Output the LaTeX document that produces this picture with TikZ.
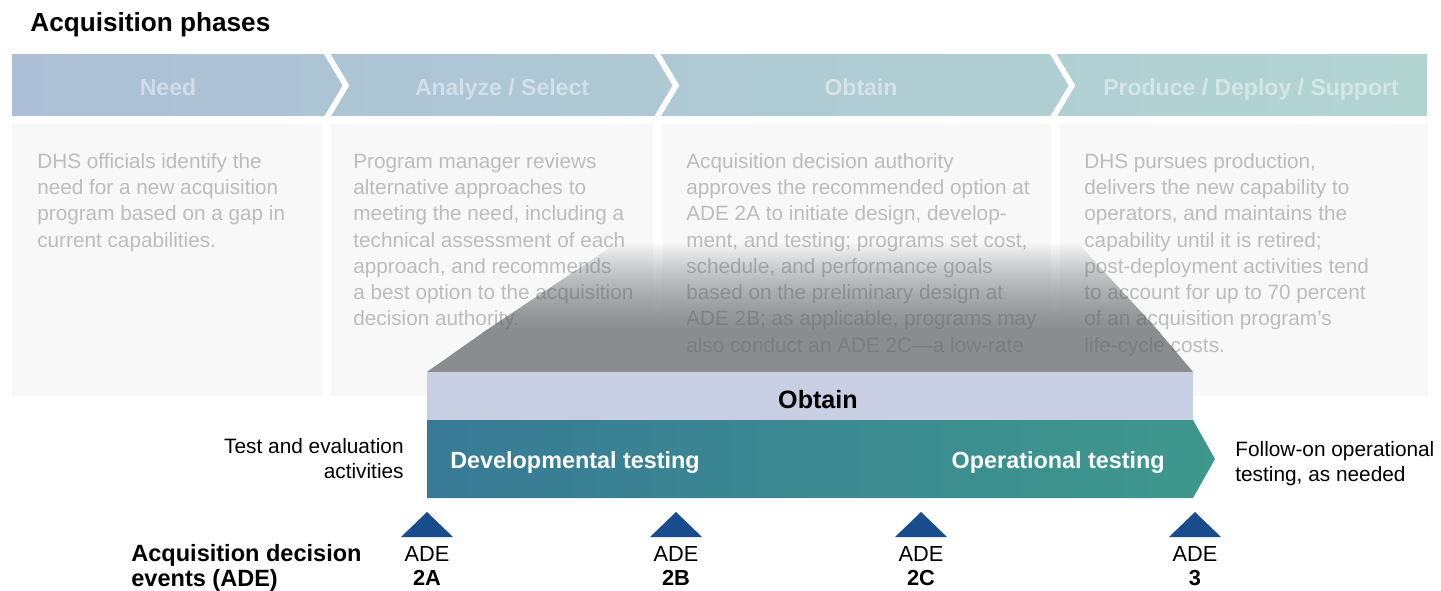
\documentclass[tikz,border=0pt]{standalone}
\usepackage{fontspec}
\setmainfont{Liberation Sans}
\usepackage{tikz}
\usetikzlibrary{fadings}
\usetikzlibrary{positioning}

\definecolor{phaseleft}{RGB}{172,191,214}
\definecolor{phaseright}{RGB}{178,213,210}
\definecolor{panelgray}{RGB}{248,248,248}
\definecolor{obtainband}{RGB}{200,207,226}
\definecolor{devteal}{RGB}{56,122,150}
\definecolor{opteal}{RGB}{62,152,140}
\definecolor{adeblue}{RGB}{24,76,140}
\definecolor{funnelgray}{RGB}{138,140,143}

\begin{document}
\begin{tikzpicture}[x=0.02cm, y=-0.02cm]

   %Styles of boxes and texts
   \tikzstyle{phasename} = [text=white, text opacity=0.45, font=\fontsize{13.1}{15}\selectfont\bfseries, anchor=base, inner sep=0]
   \tikzstyle{paneltext} = [text=black, text opacity=0.24, font=\fontsize{11.8}{14.95}\selectfont, align=left, anchor=north west, inner sep=0]
   \tikzstyle{sidetext} = [font=\fontsize{11.85}{14.2}\selectfont, inner sep=0]
   \tikzstyle{bandtext} = [text=white, font=\fontsize{13.3}{15}\selectfont\bfseries, anchor=base, inner sep=0]
   \tikzstyle{adetext} = [font=\fontsize{12.4}{14}\selectfont, anchor=base, inner sep=0]
   \tikzstyle{adetri} = [fill=adeblue]

   \useasboundingbox (0,0) rectangle (1441,591);
   \fill[white] (0,0) rectangle (1441,591);

   %Title
   \node[anchor=base west, inner sep=0, font=\fontsize{14.9}{17}\selectfont\bfseries] (title) at (30,32) {Acquisition phases};

   %Phase chevrons
   \shade[left color=phaseleft, right color=phaseright] (12,55) rectangle (1427,116);
   \foreach \x in {326,656,1052}
      \draw[white, line width=3.2pt, miter limit=10] (\x,52) -- (\x+20,85.5) -- (\x,119);
   \node[phasename] (need) at (168,96) {Need};
   \node[phasename] (analyze) at (502,96) {Analyze / Select};
   \node[phasename] (obtainphase) at (861,96) {Obtain};
   \node[phasename] (produce) at (1251,96) {Produce / Deploy / Support};

   %Panels
   \fill[panelgray] (12,124) rectangle (322,396);
   \fill[panelgray] (331,124) rectangle (653,396);
   \fill[panelgray] (662,124) rectangle (1051,396);
   \fill[panelgray] (1060,124) rectangle (1428,396);

   %Funnel down to the obtain band (faded top part, solid bottom part)
   \fill[funnelgray, path fading=north] (482.4,333) -- (618.6,242) -- (1077.3,242) -- (1160.7,333) -- cycle;
   \fill[funnelgray] (427,372) -- (483.9,332) -- (1159.1,332) -- (1193,372) -- cycle;

   %Panel texts
   \node[paneltext] (needtext) at (37,153) {DHS officials identify the\\need for a new acquisition\\program based on a gap in\\current capabilities.};
   \node[paneltext] (analyzetext) at (353,153) {Program manager reviews\\alternative approaches to\\meeting the need, including a\\technical assessment of each\\approach, and recommends\\a best option to the acquisition\\decision authority.};
   \node[paneltext] (obtaintext) at (686,153) {Acquisition decision authority\\approves the recommended option at\\ADE 2A to initiate design, develop-\\ment, and testing; programs set cost,\\schedule, and performance goals\\based on the preliminary design at\\ADE 2B; as applicable, programs may\\also conduct an ADE 2C---a low-rate};
   \node[paneltext] (producetext) at (1084,153) {DHS pursues production,\\delivers the new capability to\\operators, and maintains the\\capability until it is retired;\\post-deployment activities tend\\to account for up to 70 percent\\of an acquisition program's\\life-cycle costs.};

   %Veil of the funnel over the texts
   \fill[funnelgray, fill opacity=0.55, path fading=north] (482.4,333) -- (618.6,242) -- (1077.3,242) -- (1160.7,333) -- cycle;
   \fill[funnelgray, fill opacity=0.55] (427,372) -- (483.9,332) -- (1159.1,332) -- (1193,372) -- cycle;

   %Obtain band and testing arrow
   \fill[obtainband] (427,372) rectangle (1193,420);
   \node[anchor=base, inner sep=0, font=\fontsize{14.3}{16}\selectfont\bfseries] (obtain) at (818,408) {Obtain};
   \shade[left color=devteal, right color=opteal] (427,420) -- (1193,420) -- (1215,459) -- (1193,498) -- (427,498) -- cycle;
   \node[bandtext, anchor=base west] (devtest) at (450,468) {Developmental testing};
   \node[bandtext, anchor=base east] (optest) at (1165,468) {Operational testing};

   %Side labels
   \node[sidetext, align=right, anchor=north east] (testeval) at (404,438) {Test and evaluation\\activities};
   \node[sidetext, align=left, anchor=north west] (followon) at (1235,441) {Follow-on operational\\testing, as needed};

   %Acquisition decision events
   \node[anchor=north west, align=left, inner sep=0, font=\fontsize{13.4}{14.2}\selectfont\bfseries] (adehead) at (131,544) {Acquisition decision\\events (ADE)};
   \foreach \x/\n in {427/2A, 676/2B, 921/2C, 1195/3} {
      \fill[adetri] (\x,512) -- (\x+26,537) -- (\x-26,537) -- cycle;
      \node[adetext] (ade\n) at (\x,561) {ADE};
      \node[adetext, font=\fontsize{12.4}{14}\selectfont\bfseries, anchor=north, below=4.8pt of ade\n] (num\n) {\n};
   }

\end{tikzpicture}
\end{document}
